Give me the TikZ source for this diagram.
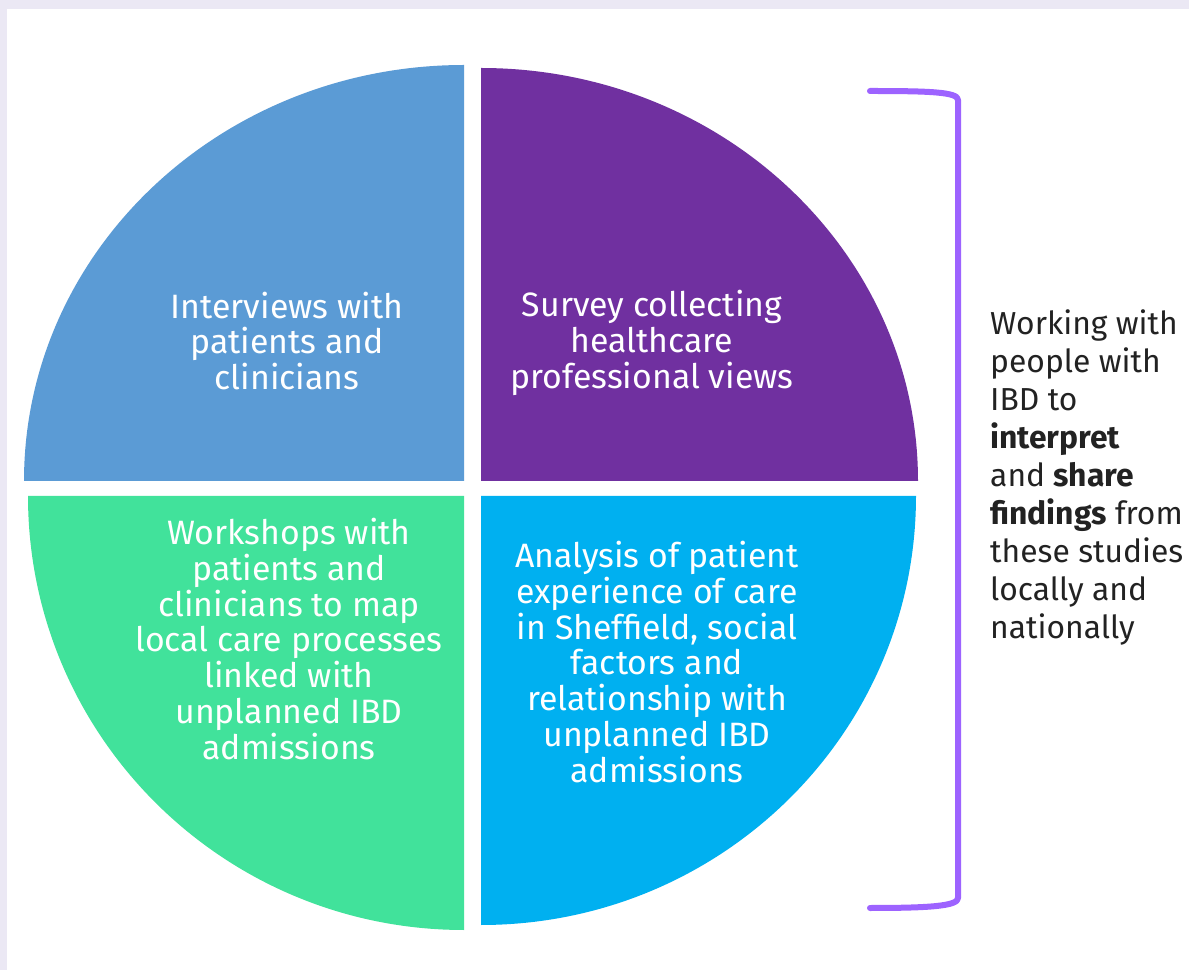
\documentclass[tikz,border=0pt]{standalone}
\usepackage{fontspec}
\newfontfamily\qf{Fira Sans}
\definecolor{lav}{HTML}{EBE8F4}
\definecolor{qblue}{HTML}{5B9BD5}
\definecolor{qpurple}{HTML}{7030A0}
\definecolor{qgreen}{HTML}{41E29B}
\definecolor{qcyan}{HTML}{00B0F0}
\definecolor{brk}{HTML}{9D63FF}
\definecolor{txt}{HTML}{222222}
\begin{document}
\begin{tikzpicture}[x=1pt,y=1pt,
  qtext/.style={text=white,align=center,inner sep=0pt,font=\qf\fontsize{33.8}{35.8}\selectfont},
  sidetext/.style={text=txt,align=left,inner sep=0pt,anchor=west,font=\qf\fontsize{31.8}{38}\selectfont}]
\useasboundingbox (0,0) rectangle (1189,970);
\fill[lav] (0,0) rectangle (1189,970);
\fill[white] (7,0) rectangle (1189,961);
% quadrants
\fill[qblue] (464,489) -- (464,905) arc[start angle=90,end angle=180,x radius=440,y radius=416] -- cycle;
\fill[qpurple] (481,489) -- (918,489) arc[start angle=0,end angle=90,x radius=437,y radius=413] -- cycle;
\fill[qgreen] (464,474) -- (28,474) arc[start angle=180,end angle=270,x radius=436,y radius=434] -- cycle;
\fill[qcyan] (481,474) -- (481,45) arc[start angle=270,end angle=360,x radius=435,y radius=429] -- cycle;
% bracket
\draw[brk,line width=6pt,line cap=round,line join=round]
  (870,879) .. controls (930,879) and (958,878) .. (958,870) -- (958,72)
  .. controls (958,64) and (930,62) .. (870,62);
% texts
\node[qtext] (tl) at (287,629) {Interviews with\\patients and\\clinicians};
\node[qtext] (tr) at (652,627) {Survey collecting\\healthcare\\professional views};
\node[qtext] (bl) at (289,331) {Workshops with\\patients and\\clinicians to map\\local care processes\\linked with\\unplanned IBD\\admissions};
\node[qtext] (br) at (657,308) {Analysis of patient\\experience of care\\in Sheffield, social\\factors and\\relationship with\\unplanned IBD\\admissions};
\node[sidetext] (side) at (990,493) {Working with\\people with\\IBD to\\\textbf{interpret}\\and \textbf{share}\\\textbf{findings} from\\these studies\\locally and\\nationally};
\end{tikzpicture}
\end{document}
